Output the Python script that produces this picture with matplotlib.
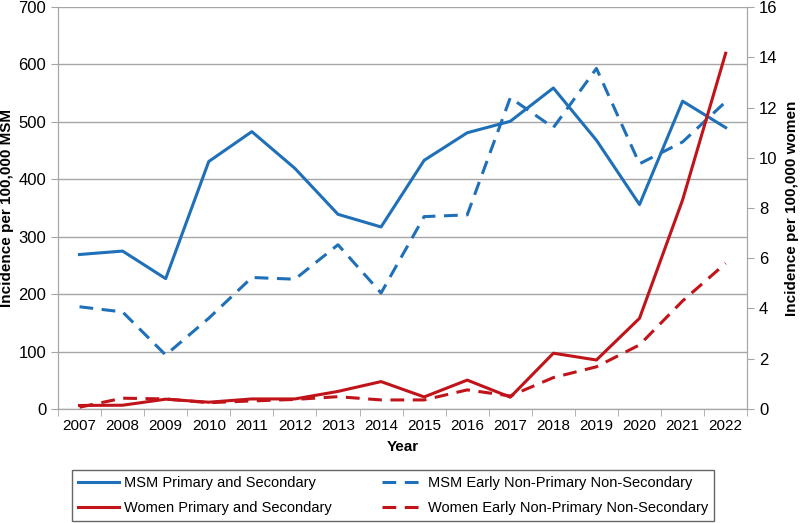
import numpy as np
import matplotlib
matplotlib.use('Agg')
import matplotlib.pyplot as plt

years = [str(y) for y in range(2007, 2023)]

# left axis, per 100,000 MSM
msm_ps = [269, 275, 227, 431, 483, 419, 339, 317, 433, 481, 501, 559, 468, 356, 536, 490]
msm_early = [178, 169, 94, 158, 229, 226, 286, 202, 335, 338, 542, 490, 593, 427, 465, 535]
# right axis, per 100,000 women
women_ps = [0.14, 0.15, 0.39, 0.27, 0.40, 0.40, 0.70, 1.09, 0.48, 1.15, 0.47, 2.22, 1.95, 3.61, 8.32, 14.16]
women_early = [0.07, 0.43, 0.40, 0.25, 0.32, 0.38, 0.49, 0.36, 0.36, 0.76, 0.52, 1.25, 1.68, 2.55, 4.3, 5.8]

blue = '#1f70b8'
red = '#c0141a'
grid_col = '#a6a6a6'

plt.rcParams['font.family'] = ['Liberation Sans', 'DejaVu Sans']

fig = plt.figure(figsize=(8, 5.23), dpi=100)
ax = fig.add_axes([0.0725, 0.218, 0.8615, 0.7686])
ax2 = ax.twinx()

x = np.arange(len(years))
l1, = ax.plot(x, msm_ps, color=blue, lw=2.2, label='MSM Primary and Secondary')
l2, = ax.plot(x, msm_early, color=blue, lw=2.2, dashes=(4.5, 2.8), label='MSM Early Non-Primary Non-Secondary')
l3, = ax2.plot(x, women_ps, color=red, lw=2.2, label='Women Primary and Secondary')
l4, = ax2.plot(x, women_early, color=red, lw=2.2, dashes=(4.5, 2.8), label='Women Early Non-Primary Non-Secondary')

ax.set_xlim(-0.5, len(years) - 0.5)
ax.set_ylim(0, 700)
ax2.set_ylim(0, 16)
ax.set_yticks(range(0, 701, 100))
ax2.set_yticks(range(0, 17, 2))
ax.yaxis.grid(True, color=grid_col, lw=1)
ax.set_axisbelow(True)

ax.set_xticks(x)
ax.set_xticklabels(years, fontsize=11)
ax.set_xticks(np.arange(-0.5, len(years), 1), minor=True)
ax.tick_params(axis='x', which='major', length=0, pad=7)
ax.tick_params(axis='x', which='minor', length=5, color=grid_col)
ax.tick_params(axis='y', length=5, color=grid_col, labelsize=12)
ax2.tick_params(axis='y', length=5, color=grid_col, labelsize=12)

for a in (ax, ax2):
    a.spines['top'].set_visible(False)
    for s in ('left', 'right', 'bottom'):
        a.spines[s].set_color(grid_col)

ax.set_xlabel('Year', fontsize=11, fontweight='bold', labelpad=5)
ax.set_ylabel('Incidence per 100,000 MSM', fontsize=11, fontweight='bold', labelpad=3)
ax2.set_ylabel('Incidence per 100,000 women', fontsize=11, fontweight='bold', labelpad=5)

leg = fig.legend([l1, l3, l2, l4],
                 [l1.get_label(), l3.get_label(), l2.get_label(), l4.get_label()],
                 ncol=2, loc='lower left', bbox_to_anchor=(0.09, 0.004, 0.8025, 0.103),
                 mode='expand', fontsize=10.5,
                 frameon=True, fancybox=False, edgecolor='#404040',
                 handlelength=2.8, borderaxespad=0, borderpad=0.4,
                 labelspacing=0.75, handletextpad=0.35, columnspacing=2)
leg.get_frame().set_linewidth(1)

fig.savefig('out.png', dpi=100)
